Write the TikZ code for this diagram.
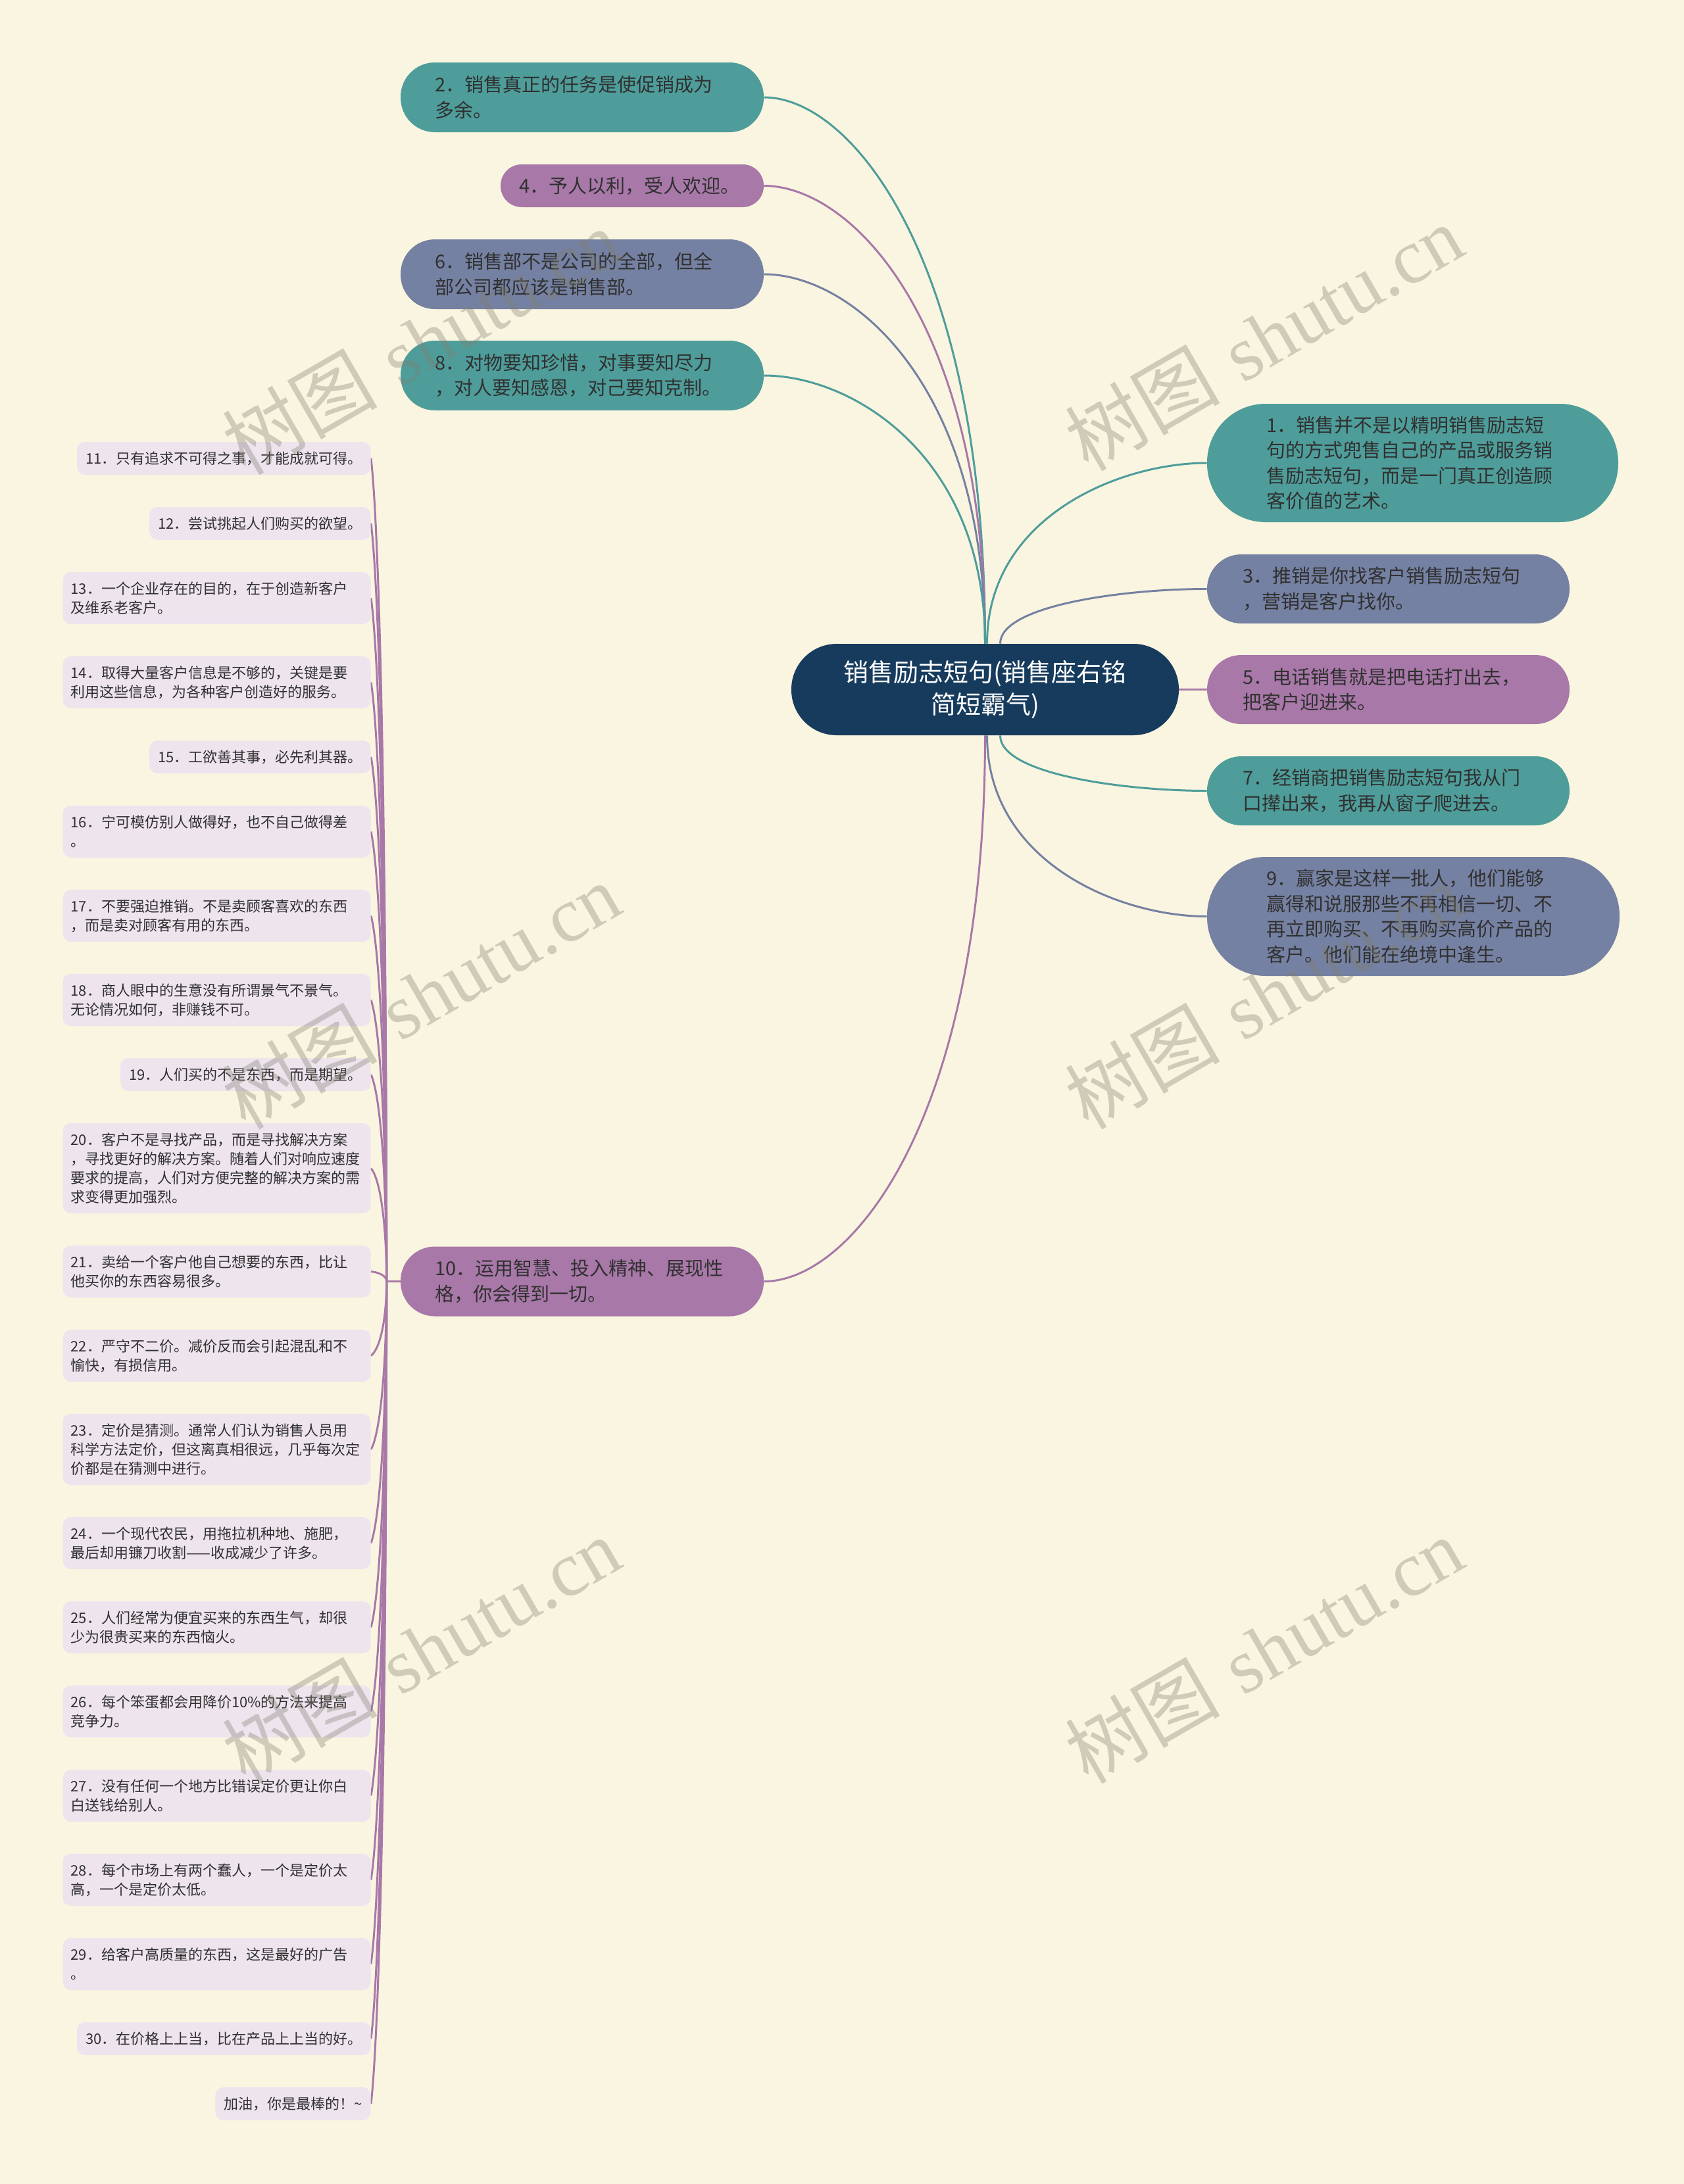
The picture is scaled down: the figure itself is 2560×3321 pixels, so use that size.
\documentclass[tikz,border=0pt]{standalone}
\usepackage{fontspec}
\usetikzlibrary{calc}
\newfontfamily\cjk{Noto Sans CJK SC}
\newfontfamily\wmlat{Liberation Serif}
\definecolor{bgc}{HTML}{FAF5E0}
\definecolor{tealc}{HTML}{4E9D9A}
\definecolor{slatec}{HTML}{7581A2}
\definecolor{purplec}{HTML}{A878A8}
\definecolor{rootc}{HTML}{173B5C}
\definecolor{leafc}{HTML}{EDE4EE}
\definecolor{txtc}{HTML}{303030}
\definecolor{wmc}{HTML}{807F70}
\pgfdeclarelayer{background}
\pgfsetlayers{background,main}
\tikzset{
  mainnode/.style={font=\cjk\fontsize{14.5pt}{19.3pt}\selectfont, text=txtc, align=left, inner sep=0pt},
  tealnode/.style={mainnode, fill=tealc},
  slatenode/.style={mainnode, fill=slatec},
  purplenode/.style={mainnode, fill=purplec},
  bignode/.style={minimum width=312.5pt, minimum height=90pt, rounded corners=44.5pt, text width=222.5pt},
  midnode/.style={minimum width=275.5pt, minimum height=52.5pt, rounded corners=26pt, text width=221.5pt},
  leftnode/.style={minimum width=276pt, minimum height=53pt, rounded corners=26pt, text width=224pt},
  rootnode/.style={font=\cjk\fontsize{19pt}{24.5pt}\selectfont, text=white, align=center, inner sep=0pt, fill=rootc,
    minimum width=294.5pt, minimum height=69.5pt, rounded corners=34.5pt, text width=260pt},
  leafnode/.style={font=\cjk\fontsize{11pt}{14.5pt}\selectfont, text=txtc, fill=leafc, rounded corners=6pt,
    inner xsep=6.5pt, inner ysep=0pt, minimum height=25pt, anchor=east},
  multileaf/.style={leafnode, text width=222pt, align=left, inner xsep=6pt},
  twoline/.style={minimum height=39.5pt},
  threeline/.style={minimum height=54pt},
  fourline/.style={minimum height=68.5pt},
  conn/.style={line width=1.5pt},
  lconn/.style={line width=1.5pt, draw=purplec},
  wm/.style={text=wmc, opacity=0.35, rotate=30, inner sep=0pt, font=\fontsize{59pt}{59pt}\selectfont},
}
\newcommand\rconn[3]{\draw[conn, draw=#1] (#2) .. controls ($(#2)!0.7!(#2|-#3)$) and ($(#3)!0.4!(#3-|#2)$) .. (#3);}
\newcommand\lconnect[1]{\draw[lconn] (trunk) .. controls ($(trunk|-#1.east)!0.5!(trunk)$) and ($(#1.east)!0.1!(trunk)+(6pt,0)$) .. (#1.east);}
\begin{document}
\begin{tikzpicture}[x=0.5pt, y=-0.5pt]
% root
\node[rootnode] (root) at (1497.5,1048.5) {销售励志短句(销售座右铭\\简短霸气)};
% right side
\node[tealnode, bignode] (n1) at (2147.5,704) {1．销售并不是以精明销售励志短\\句的方式兜售自己的产品或服务销\\售励志短句，而是一门真正创造顾\\客价值的艺术。};
\node[slatenode, midnode] (n3) at (2110.5,895.5) {3．推销是你找客户销售励志短句\\，营销是客户找你。};
\node[purplenode, midnode] (n5) at (2110.5,1048.5) {5．电话销售就是把电话打出去，\\把客户迎进来。};
\node[tealnode, midnode] (n7) at (2110.5,1202.5) {7．经销商把销售励志短句我从门\\口撵出来，我再从窗子爬进去。};
\node[slatenode, bignode, minimum width=313.5pt, minimum height=90.5pt, text width=223.5pt] (n9) at (2148.5,1393.5) {9．赢家是这样一批人，他们能够\\赢得和说服那些不再相信一切、不\\再立即购买、不再购买高价产品的\\客户。他们能在绝境中逢生。};
% left side
\node[tealnode, leftnode] (n2) at (885,148) {2．销售真正的任务是使促销成为\\多余。};
\node[purplenode, minimum width=200pt, minimum height=32.5pt, rounded corners=16pt, text width=172pt] (n4) at (961,282.5) {4．予人以利，受人欢迎。};
\node[slatenode, leftnode] (n6) at (885,417) {6．销售部不是公司的全部，但全\\部公司都应该是销售部。};
\node[tealnode, leftnode] (n8) at (885,571) {8．对物要知珍惜，对事要知尽力\\，对人要知感恩，对己要知克制。};
\node[purplenode, leftnode] (n10) at (885,1948.5) {10．运用智慧、投入精神、展现性\\格，你会得到一切。};
% leaves
\node[leafnode] (l11) at (564,697) {11．只有追求不可得之事，才能成就可得。};
\node[leafnode] (l12) at (564,796) {12．尝试挑起人们购买的欲望。};
\node[multileaf, twoline] (l13) at (564,909.5) {13．一个企业存在的目的，在于创造新客户\\及维系老客户。};
\node[multileaf, twoline] (l14) at (564,1037.5) {14．取得大量客户信息是不够的，关键是要\\利用这些信息，为各种客户创造好的服务。};
\node[leafnode] (l15) at (564,1151) {15．工欲善其事，必先利其器。};
\node[multileaf, twoline] (l16) at (564,1264.5) {16．宁可模仿别人做得好，也不自己做得差\\。};
\node[multileaf, twoline] (l17) at (564,1392.5) {17．不要强迫推销。不是卖顾客喜欢的东西\\，而是卖对顾客有用的东西。};
\node[multileaf, twoline] (l18) at (564,1520.5) {18．商人眼中的生意没有所谓景气不景气。\\无论情况如何，非赚钱不可。};
\node[leafnode] (l19) at (564,1634) {19．人们买的不是东西，而是期望。};
\node[multileaf, fourline] (l20) at (564,1776.5) {20．客户不是寻找产品，而是寻找解决方案\\，寻找更好的解决方案。随着人们对响应速度\\要求的提高，人们对方便完整的解决方案的需\\求变得更加强烈。};
\node[multileaf, twoline] (l21) at (564,1933.5) {21．卖给一个客户他自己想要的东西，比让\\他买你的东西容易很多。};
\node[multileaf, twoline] (l22) at (564,2061.5) {22．严守不二价。减价反而会引起混乱和不\\愉快，有损信用。};
\node[multileaf, threeline] (l23) at (564,2204) {23．定价是猜测。通常人们认为销售人员用\\科学方法定价，但这离真相很远，几乎每次定\\价都是在猜测中进行。};
\node[multileaf, twoline] (l24) at (564,2346.5) {24．一个现代农民，用拖拉机种地、施肥，\\最后却用镰刀收割——收成减少了许多。};
\node[multileaf, twoline] (l25) at (564,2474.5) {25．人们经常为便宜买来的东西生气，却很\\少为很贵买来的东西恼火。};
\node[multileaf, twoline] (l26) at (564,2602.5) {26．每个笨蛋都会用降价10\%的方法来提高\\竞争力。};
\node[multileaf, twoline] (l27) at (564,2730.5) {27．没有任何一个地方比错误定价更让你白\\白送钱给别人。};
\node[multileaf, twoline] (l28) at (564,2858.5) {28．每个市场上有两个蠢人，一个是定价太\\高，一个是定价太低。};
\node[multileaf, twoline] (l29) at (564,2986.5) {29．给客户高质量的东西，这是最好的广告\\。};
\node[leafnode] (l30) at (564,3100) {30．在价格上上当，比在产品上上当的好。};
\node[leafnode] (l31) at (564,3199) {加油，你是最棒的！\textasciitilde};
% helper coordinates on the root and branch
\coordinate (rtA) at ([xshift=1.5pt]root.north);
\coordinate (rtB) at ([xshift=11.5pt]root.north);
\coordinate (rbA) at ([xshift=1.5pt]root.south);
\coordinate (rbB) at ([xshift=11.5pt]root.south);
\coordinate (trunk) at ([xshift=-10.5pt]n10.west);
\begin{pgfonlayer}{background}
\fill[bgc] (0,0) rectangle (2560,3321);
\rconn{tealc}{root.north}{n2.east}
\rconn{purplec}{root.north}{n4.east}
\rconn{slatec}{root.north}{n6.east}
\rconn{tealc}{root.north}{n8.east}
\rconn{purplec}{root.south}{n10.east}
\rconn{tealc}{rtA}{n1.west}
\rconn{slatec}{rtB}{n3.west}
\draw[conn, draw=purplec] (root.east) -- (n5.west);
\rconn{tealc}{rbB}{n7.west}
\rconn{slatec}{rbA}{n9.west}
\draw[lconn] (n10.west) -- (trunk);
\lconnect{l11}\lconnect{l12}\lconnect{l13}\lconnect{l14}\lconnect{l15}
\lconnect{l16}\lconnect{l17}\lconnect{l18}\lconnect{l19}\lconnect{l20}
\lconnect{l21}\lconnect{l22}\lconnect{l23}\lconnect{l24}\lconnect{l25}
\lconnect{l26}\lconnect{l27}\lconnect{l28}\lconnect{l29}\lconnect{l30}
\lconnect{l31}
\end{pgfonlayer}
% watermarks
\node[wm] (wm1) at (640,519) {{\cjk 树图} {\wmlat shutu.cn}};
\node[wm] (wm2) at (1921,513) {{\cjk 树图} {\wmlat shutu.cn}};
\node[wm] (wm3) at (640,1514) {{\cjk 树图} {\wmlat shutu.cn}};
\node[wm] (wm4) at (1921,1514) {{\cjk 树图} {\wmlat shutu.cn}};
\node[wm] (wm5) at (640,2509) {{\cjk 树图} {\wmlat shutu.cn}};
\node[wm] (wm6) at (1921,2509) {{\cjk 树图} {\wmlat shutu.cn}};
\end{tikzpicture}
\end{document}
